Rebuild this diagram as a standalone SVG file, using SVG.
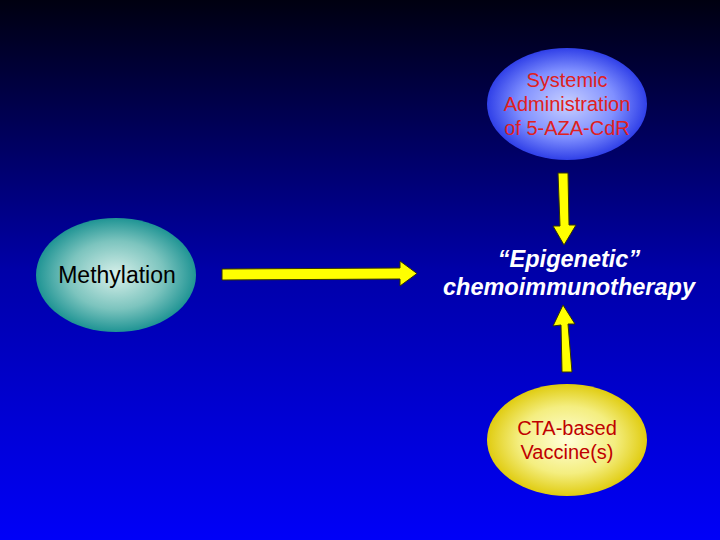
<svg xmlns="http://www.w3.org/2000/svg" width="720" height="540" viewBox="0 0 720 540">
<defs>
<linearGradient id="bg" x1="0" y1="0" x2="0" y2="1"><stop offset="0" stop-color="#000010"/><stop offset="0.5" stop-color="#0000a8"/><stop offset="1" stop-color="#0000f8"/></linearGradient>
<radialGradient id="gb" cx="0.5" cy="0.5" r="0.5"><stop offset="0" stop-color="#c8d0ff"/><stop offset="0.6" stop-color="#8090ff"/><stop offset="1" stop-color="#3040e8"/></radialGradient>
<radialGradient id="gt" cx="0.5" cy="0.5" r="0.5"><stop offset="0" stop-color="#d8f0ea"/><stop offset="0.6" stop-color="#7cc4be"/><stop offset="1" stop-color="#1f9494"/></radialGradient>
<radialGradient id="gy" cx="0.5" cy="0.5" r="0.5"><stop offset="0" stop-color="#ffffd8"/><stop offset="0.6" stop-color="#f4ee80"/><stop offset="1" stop-color="#e0cc10"/></radialGradient>
<style>
.t{font-family:"Liberation Sans",Arial,sans-serif;font-size:20px;text-anchor:middle}
.big{font-size:23.5px;font-style:italic;font-weight:bold}
.m{font-size:23px}
.a{fill:#ffff00;stroke:#333300;stroke-width:1}
</style>
</defs>
<rect width="720" height="540" fill="url(#bg)"/>
<g id="n1"><ellipse cx="567" cy="104" rx="80" ry="56" fill="url(#gb)"/>
<text class="t" fill="#e02020"><tspan x="567" y="87">Systemic</tspan><tspan x="567" y="111">Administration</tspan><tspan x="567" y="135">of 5-AZA-CdR</tspan></text></g>
<g id="n2"><ellipse cx="116" cy="275" rx="80" ry="57" fill="url(#gt)"/>
<text class="t m" x="117" y="283" fill="#000">Methylation</text></g>
<g id="n3"><text class="t big" fill="#fff"><tspan x="569" y="267">“Epigenetic”</tspan><tspan x="569" y="295">chemoimmunotherapy</tspan></text></g>
<g id="n4"><ellipse cx="567" cy="440" rx="80" ry="56" fill="url(#gy)"/>
<text class="t" fill="#c00000"><tspan x="567" y="435">CTA-based</tspan><tspan x="567" y="459">Vaccine(s)</tspan></text></g>
<g id="connectors">
<polygon class="a" points="222,269 400,268 400,261 417,273.5 400,286 400,279 222,280"/>
<polygon class="a" points="558,173 568,173 569,225 576,225 564,245 553,226 560,226"/>
<polygon class="a" points="572,372 562,372 561,325 553,326 563,305 575,324 568,324"/>
</g>
</svg>
